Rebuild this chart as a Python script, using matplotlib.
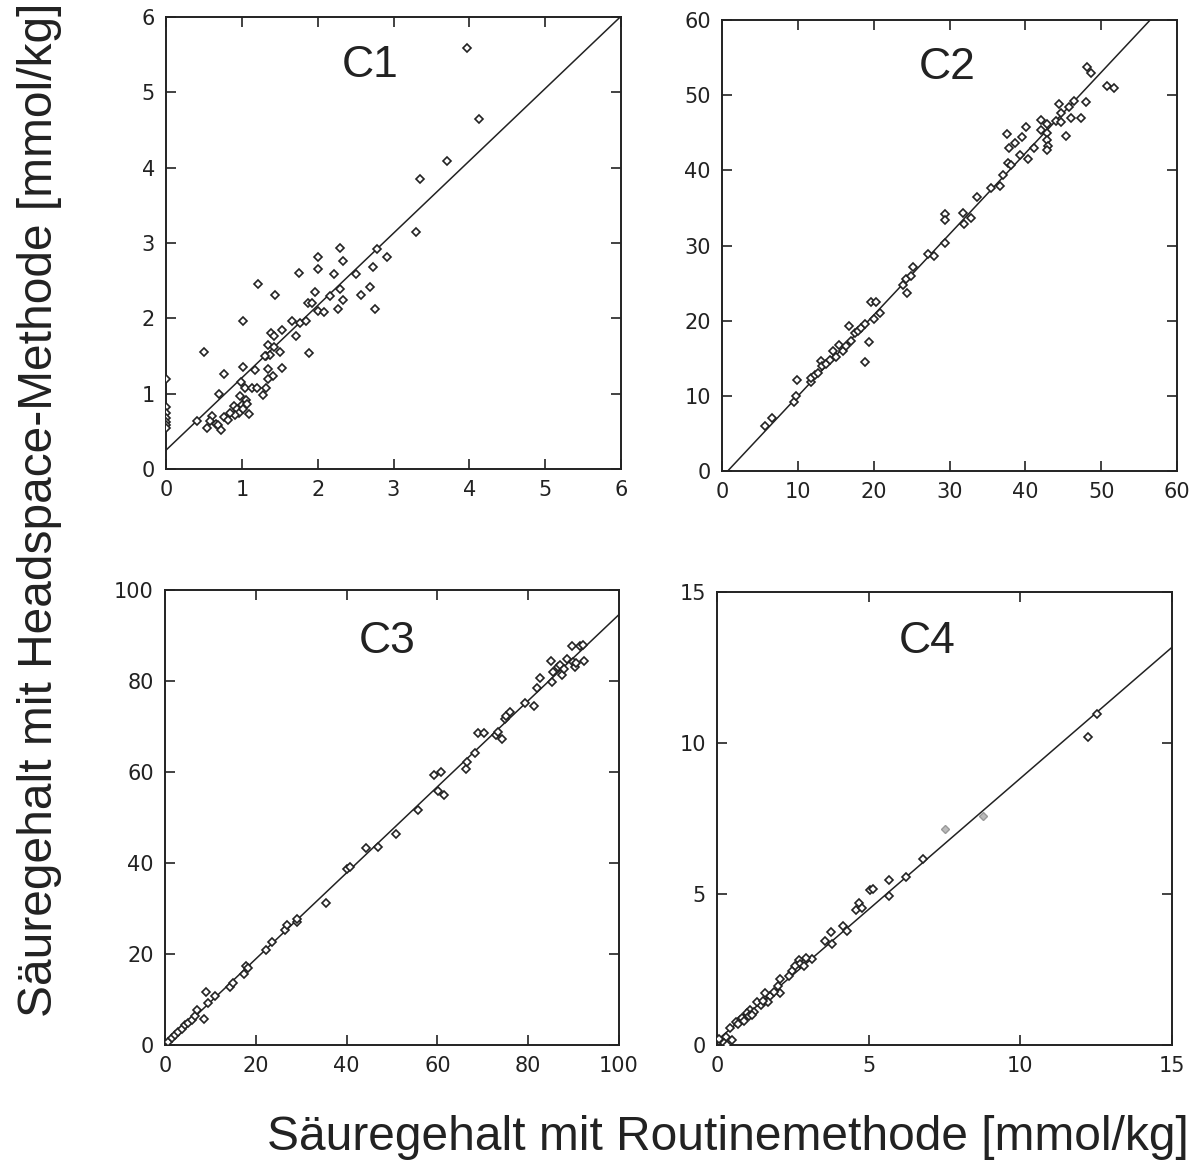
import matplotlib
matplotlib.use("Agg")
import matplotlib.pyplot as plt
import numpy as np

plt.rcParams['font.family'] = ['Liberation Sans', 'DejaVu Sans']

# ---------------- data ----------------
c1_x = [3.97, 4.13, 3.70, 3.35, 3.30, 2.91, 2.78, 2.29, 2.34, 2.01, 2.00, 1.75, 2.22, 2.50,
        2.73, 2.29, 2.69, 1.96, 2.16, 2.57, 2.33, 1.87, 1.93, 2.00, 2.08, 2.27, 2.75, 1.21,
        1.44, 1.02, 1.66, 1.77, 1.85, 1.38, 1.42, 1.53, 1.71, 1.34, 1.43, 1.50, 1.89, 0.50,
        1.32, 1.37, 1.01, 1.17, 1.35, 1.53, 0.76, 1.41, 1.35, 0.99, 1.04, 1.14, 1.20, 1.32,
        0.70, 0.98, 1.28, 1.06, 1.00, 1.07, 0.90, 0.93, 0.96, 0.91, 1.09, 1.02, 0.84, 0.77,
        0.60, 0.82, 0.41, 0.58, 0.66, 0.54, 0.68, 0.72, 1.31,
        0.0, 0.0, 0.0, 0.0, 0.0, 0.0, 0.0]
c1_y = [5.59, 4.64, 4.09, 3.85, 3.15, 2.81, 2.92, 2.94, 2.76, 2.81, 2.65, 2.60, 2.59, 2.59,
        2.68, 2.39, 2.42, 2.35, 2.30, 2.31, 2.25, 2.20, 2.20, 2.10, 2.09, 2.12, 2.12, 2.45,
        2.31, 1.97, 1.96, 1.94, 1.96, 1.81, 1.77, 1.84, 1.77, 1.65, 1.62, 1.55, 1.54, 1.55,
        1.50, 1.51, 1.35, 1.31, 1.33, 1.34, 1.26, 1.24, 1.20, 1.16, 1.08, 1.08, 1.08, 1.08,
        0.99, 0.97, 0.98, 0.92, 0.85, 0.86, 0.83, 0.79, 0.74, 0.72, 0.73, 0.80, 0.74, 0.69,
        0.71, 0.65, 0.64, 0.64, 0.60, 0.55, 0.58, 0.52, 1.50,
        1.19, 0.82, 0.74, 0.68, 0.63, 0.58, 0.55]

c2_x = [5.7, 6.6, 9.5, 9.8, 9.9, 11.7, 11.8, 12.2, 12.6, 13.1, 13.2, 13.7, 14.2, 14.7, 15.0,
        15.4, 15.9, 16.4, 16.7, 17.0, 17.5, 17.9, 18.3, 18.8, 18.8, 19.4, 19.7, 20.3, 20.1,
        20.8, 23.9, 24.3, 24.4, 24.9, 25.2, 27.1, 28.0, 29.4, 29.4, 29.4, 31.8, 31.9, 32.9,
        33.6, 35.5, 36.7, 37.1, 37.7, 38.1, 37.6, 37.8, 38.6, 39.3, 39.5, 40.1, 40.4, 41.1,
        42.0, 42.0, 42.8, 42.8, 42.9, 43.0, 42.9, 44.1, 44.4, 44.7, 44.7, 45.3, 45.8, 46.0,
        46.4, 47.3, 48.0, 48.1, 48.7, 50.8, 51.7]
c2_y = [6.0, 7.0, 9.2, 10.0, 12.1, 11.9, 12.4, 12.8, 13.1, 14.7, 14.0, 14.2, 14.8, 15.9, 15.1,
        16.8, 15.9, 16.6, 19.3, 17.3, 18.4, 18.6, 19.0, 19.5, 14.5, 17.1, 22.5, 22.5, 20.2,
        21.0, 24.8, 25.5, 23.7, 25.9, 27.2, 28.9, 28.6, 30.3, 34.2, 33.4, 34.3, 32.8, 33.7,
        36.5, 37.6, 37.9, 39.4, 41.0, 40.7, 44.8, 43.0, 43.6, 42.1, 44.5, 45.8, 41.5, 43.0,
        45.4, 46.7, 46.2, 45.0, 44.0, 43.3, 42.7, 46.6, 48.8, 47.6, 46.4, 44.6, 48.4, 46.9,
        49.2, 46.9, 49.1, 53.8, 53.0, 51.2, 51.0]

c3_x = [0.7, 1.5, 2.2, 2.9, 3.7, 4.4, 5.1, 5.9, 6.6, 7.0, 8.6, 9.0, 9.5, 11.0, 14.3, 15.0,
        17.4, 17.8, 18.3, 22.2, 23.5, 26.4, 26.9, 29.1, 29.0, 35.4, 40.1, 40.7, 44.2, 47.0,
        50.8, 55.8, 59.3, 60.9, 60.2, 61.4, 66.2, 66.5, 68.2, 69.0, 70.2, 72.9, 73.4, 74.3,
        74.8, 75.2, 75.9, 79.2, 81.2, 82.0, 82.7, 85.3, 85.1, 85.5, 86.6, 87.1, 87.5, 87.8,
        88.6, 89.7, 89.9, 90.2, 90.5, 91.3, 92.1, 92.3]
c3_y = [0.7, 1.5, 2.1, 2.8, 3.5, 4.3, 4.8, 5.5, 6.3, 7.6, 5.7, 11.6, 9.2, 10.7, 12.7, 13.6,
        15.6, 17.3, 16.9, 20.9, 22.6, 25.3, 26.4, 27.0, 27.7, 31.3, 38.7, 39.1, 43.4, 43.5,
        46.3, 51.7, 59.3, 60.0, 55.8, 54.9, 60.6, 62.2, 64.2, 68.5, 68.5, 68.1, 68.8, 67.2,
        71.6, 72.3, 73.2, 75.1, 74.5, 78.4, 80.6, 79.7, 84.4, 82.0, 83.1, 83.6, 81.4, 82.6,
        84.8, 87.7, 84.1, 83.1, 83.9, 87.7, 87.9, 84.4]

c4_x = [12.53, 12.22, 6.78, 6.24, 5.68, 5.68, 5.03, 5.14, 4.69, 4.59, 4.78, 4.15, 4.29, 3.76,
        3.57, 3.79, 3.13, 2.95, 2.69, 2.75, 2.58, 2.47, 2.36, 2.07, 2.00, 2.09, 1.76, 1.59,
        1.67, 1.45, 1.32, 1.10, 0.93, 0.75, 0.64, 0.82, 0.99, 0.44, 0.31, 0.05, 0.49, 0.22,
        0.33, 1.21, 1.52, 1.89, 2.86, 0.88, 1.05, 0.70, 1.15]
c4_y = [10.96, 10.20, 6.15, 5.56, 5.45, 4.95, 5.14, 5.17, 4.70, 4.48, 4.53, 3.94, 3.78, 3.73,
        3.43, 3.34, 2.85, 2.87, 2.82, 2.67, 2.63, 2.45, 2.27, 2.18, 1.97, 1.71, 1.62, 1.71,
        1.44, 1.33, 1.44, 1.16, 0.94, 0.83, 0.77, 0.88, 1.05, 0.57, 0.28, 0.19, 0.17, 0.06,
        0.00, 1.10, 1.47, 1.77, 2.60, 0.80, 0.95, 0.70, 1.00]
c4_faint_x = [7.51, 8.76]
c4_faint_y = [7.16, 7.59]

# regression lines: (intercept, slope)
c1_fit = (0.25, 0.96)
c2_fit = (-0.81, 1.077)
c3_fit = (0.0, 0.946)
c4_fit = (0.15, 0.868)

panels = [
    ("C1", c1_x, c1_y, c1_fit, 6, [0, 1, 2, 3, 4, 5, 6], (0.448, 0.892)),
    ("C2", c2_x, c2_y, c2_fit, 60, [0, 10, 20, 30, 40, 50, 60], (0.496, 0.894)),
    ("C3", c3_x, c3_y, c3_fit, 100, [0, 20, 40, 60, 80, 100], (0.489, 0.886)),
    ("C4", c4_x, c4_y, c4_fit, 15, [0, 5, 10, 15], (0.462, 0.890)),
]

W, H = 1193, 1166
fig = plt.figure(figsize=(W / 100, H / 100), dpi=100)

# axes rectangles in pixels: left, top, right, bottom
rects = [(166, 17, 621, 469), (722, 20, 1177, 471), (165, 590, 619, 1045), (717, 592, 1172, 1045)]

for (name, xs, ys, fit, lim, ticks, tpos), (l, t, r, b) in zip(panels, rects):
    ax = fig.add_axes([l / W, 1 - b / H, (r - l) / W, (b - t) / H])
    ax.set_xlim(0, lim)
    ax.set_ylim(0, lim)
    xl = np.linspace(0, lim, 200)
    yl = fit[0] + fit[1] * xl
    ax.plot(xl, yl, color='#222222', lw=1.1, zorder=2, clip_on=True)
    ax.plot(xs, ys, linestyle='none', marker='D', markersize=4.4, markerfacecolor='white',
            markeredgecolor='#222222', markeredgewidth=1.2, zorder=3)
    if name == "C4":
        ax.plot(c4_faint_x, c4_faint_y, linestyle='none', marker='D', markersize=4.4,
                markerfacecolor='#bbbbbb', markeredgecolor='#999999', markeredgewidth=1.0, zorder=3)
    ax.set_xticks(ticks)
    ax.set_yticks(ticks)
    ax.tick_params(direction='in', length=7, width=1.2, top=True, right=True,
                   labelsize=15, colors='#222222')
    ax.tick_params(axis='x', pad=8)
    ax.tick_params(axis='y', pad=8)
    for lab in ax.get_xticklabels() + ax.get_yticklabels():
        lab.set_fontfamily('DejaVu Sans')
    for s in ax.spines.values():
        s.set_linewidth(1.4)
        s.set_color('#222222')
    ax.text(tpos[0], tpos[1], name, transform=ax.transAxes, ha='center', va='center',
            fontsize=32, color='#222222')

fig.text(40 / W, 1 - 510 / H, "Säuregehalt mit Headspace-Methode [mmol/kg]", rotation=90,
         ha='center', va='center', fontsize=34.5, color='#222222')
fig.text(728 / W, 1 - 1137 / H, "Säuregehalt mit Routinemethode [mmol/kg]",
         ha='center', va='center', fontsize=34.5, color='#222222')

fig.savefig("out.png", dpi=100, facecolor='white')
